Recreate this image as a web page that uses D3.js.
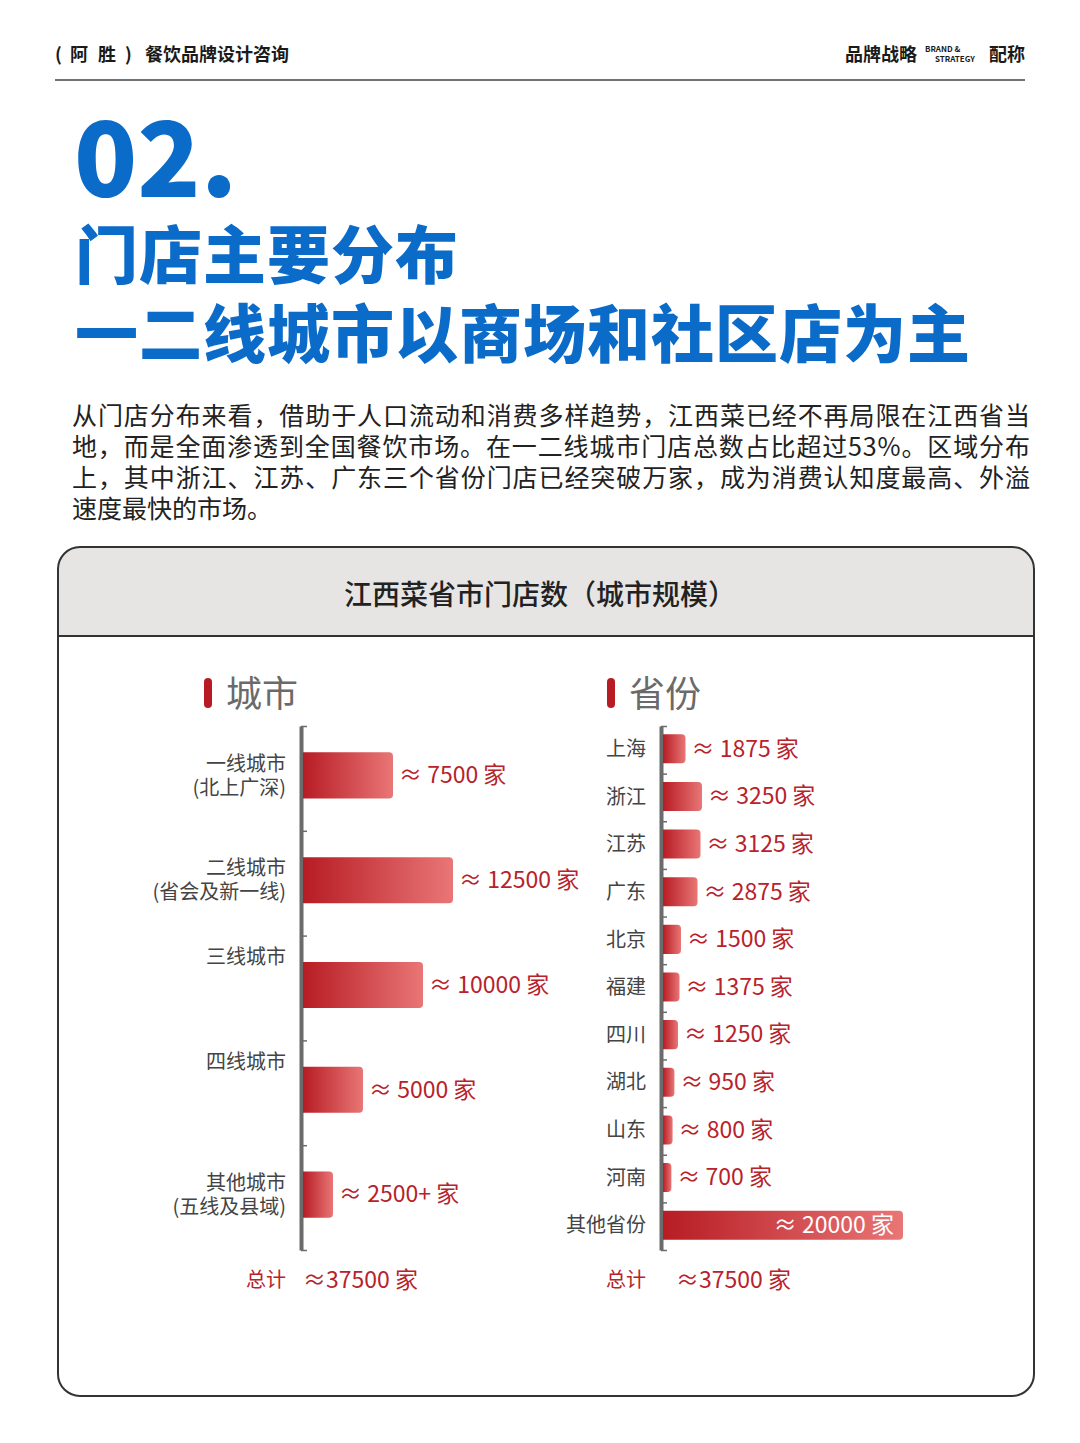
<!DOCTYPE html>
<html>
<head>
<meta charset="utf-8">
<script src="https://cdn.jsdelivr.net/npm/d3@7"></script>
<style>
  body { margin: 0; background: #fff; }
  text { font-family: "Noto Sans CJK SC", "Noto Sans", sans-serif; }
</style>
</head>
<body>
<script>
// data
const cityNames = ['一线城市\n(北上广深)', '二线城市\n(省会及新一线)', '三线城市', '四线城市', '其他城市\n(五线及县域)'];
const cityValues = [7500, 12500, 10000, 5000, 2500];
const cityValueLabels = ['≈ 7500 家', '≈ 12500 家', '≈ 10000 家', '≈ 5000 家', '≈ 2500+ 家'];

const provinceNames = ['上海', '浙江', '江苏', '广东', '北京', '福建', '四川', '湖北', '山东', '河南', '其他省份'];
const provinceValues = [1875, 3250, 3125, 2875, 1500, 1375, 1250, 950, 800, 700, 20000];

const totalLabel = '≈37500 家';

const paragraph = [
  '从门店分布来看，借助于人口流动和消费多样趋势，江西菜已经不再局限在江西省当',
  '地，而是全面渗透到全国餐饮市场。在一二线城市门店总数占比超过53%。区域分布',
  '上，其中浙江、江苏、广东三个省份门店已经突破万家，成为消费认知度最高、外溢',
  '速度最快的市场。'
];

const W = 1080, H = 1443;
const red = '#b8222a';
const blue = '#0a6bc9';

const svg = d3.select('body')
              .append('svg')
              .attr('width', W)
              .attr('height', H);

svg.append('rect').attr('width', W).attr('height', H).attr('fill', '#fff');

const defs = svg.append('defs');
const grad = defs.append('linearGradient').attr('id', 'barGrad');
grad.append('stop').attr('offset', '0%').attr('stop-color', '#b71c24');
grad.append('stop').attr('offset', '100%').attr('stop-color', '#e97676');

// page header
const hdr = svg.append('text')
               .attr('y', 55).attr('dy', '0.36em')
               .attr('font-size', 18).attr('font-weight', 700).attr('fill', '#1a1a1a');
hdr.append('tspan').attr('x', 55).text('(');
hdr.append('tspan').attr('x', 70).text('阿');
hdr.append('tspan').attr('x', 98).text('胜');
hdr.append('tspan').attr('x', 125).text(')');
hdr.append('tspan').attr('x', 145).text('餐饮品牌设计咨询');

svg.append('text').attr('x', 845).attr('y', 55).attr('dy', '0.36em')
   .attr('font-size', 18).attr('font-weight', 700).attr('fill', '#1a1a1a')
   .text('品牌战略');
svg.append('text').attr('x', 925).attr('y', 52)
   .attr('font-size', 8).attr('font-weight', 700).attr('fill', '#1a1a1a')
   .text('BRAND &');
svg.append('text').attr('x', 935).attr('y', 62)
   .attr('font-size', 8).attr('font-weight', 700).attr('fill', '#1a1a1a')
   .text('STRATEGY');
svg.append('text').attr('x', 1025).attr('y', 55).attr('dy', '0.36em')
   .attr('text-anchor', 'end')
   .attr('font-size', 18).attr('font-weight', 700).attr('fill', '#1a1a1a')
   .text('配称');

svg.append('line').attr('x1', 55).attr('x2', 1025).attr('y1', 80).attr('y2', 80)
   .attr('stroke', '#444').attr('stroke-width', 1.5);

// big titles
svg.append('text').attr('x', 74).attr('y', 197)
   .attr('font-size', 104).attr('font-weight', 900).attr('fill', blue)
   .text('02.');
svg.append('text').attr('x', 75).attr('y', 254).attr('dy', '0.38em')
   .attr('font-size', 63).attr('font-weight', 900).attr('fill', blue)
   .attr('letter-spacing', 1)
   .text('门店主要分布');
svg.append('text').attr('x', 75).attr('y', 333).attr('dy', '0.38em')
   .attr('font-size', 63).attr('font-weight', 900).attr('fill', blue)
   .attr('letter-spacing', 1)
   .text('一二线城市以商场和社区店为主');

// paragraph
svg.append('g').selectAll('text')
   .data(paragraph)
   .join('text')
   .attr('x', 72)
   .attr('y', (d, i) => 415 + i * 31.3)
   .attr('dy', '0.38em')
   .attr('font-size', 25)
   .attr('fill', '#222')
   .each(function(d, i) {
     if (i < paragraph.length - 1) {
       d3.select(this).attr('textLength', 958).attr('lengthAdjust', 'spacing');
     }
   })
   .text(d => d);

// chart panel
const px = 58, py = 547, pw = 976, ph = 849, pr = 22;
defs.append('clipPath').attr('id', 'panelClip')
    .append('rect').attr('x', px).attr('y', py).attr('width', pw).attr('height', ph).attr('rx', pr);
svg.append('rect').attr('x', px).attr('y', py).attr('width', pw).attr('height', 89)
   .attr('fill', '#e6e5e3').attr('clip-path', 'url(#panelClip)');
svg.append('line').attr('x1', px).attr('x2', px + pw).attr('y1', 636).attr('y2', 636)
   .attr('stroke', '#333').attr('stroke-width', 2);
svg.append('rect').attr('x', px).attr('y', py).attr('width', pw).attr('height', ph).attr('rx', pr)
   .attr('fill', 'none').attr('stroke', '#333').attr('stroke-width', 2);

svg.append('text').attr('x', 540).attr('y', 594).attr('dy', '0.38em')
   .attr('text-anchor', 'middle')
   .attr('font-size', 28).attr('font-weight', 500).attr('fill', '#222')
   .text('江西菜省市门店数（城市规模）');

// shared value scale
const x = d3.scaleLinear().domain([0, 20000]).range([0, 240]);

function barPath(x0, y, w, h) {
  const r = Math.min(4, w / 2);
  const x1 = x0 + w;
  return `M${x0},${y}H${x1 - r}Q${x1},${y} ${x1},${y + r}V${y + h - r}Q${x1},${y + h} ${x1 - r},${y + h}H${x0}Z`;
}

function drawChart(opt) {
  const g = svg.append('g');
  const n = opt.names.length;
  const top = 726, bottom = 1250;

  // section heading
  g.append('rect').attr('x', opt.markX).attr('y', 678).attr('width', 8).attr('height', 30)
   .attr('rx', 4).attr('fill', '#b71c24');
  g.append('text').attr('x', opt.markX + 22).attr('y', 693).attr('dy', '0.38em')
   .attr('font-size', 36).attr('fill', '#6a6a6a')
   .text(opt.heading);

  const y = d3.scaleBand()
              .domain(opt.names)
              .range([top - opt.lift, bottom - opt.lift])
              .paddingInner(opt.padInner)
              .paddingOuter(opt.padInner / 2);

  // axis with ticks on band boundaries
  const yb = d3.scaleLinear().domain([0, n]).range([top, bottom]);
  const axis = g.append('g')
                .attr('transform', `translate(${opt.axisX},0)`)
                .call(d3.axisRight(yb).tickValues(d3.range(n + 1)).tickFormat('').tickSize(6).tickSizeOuter(0));
  axis.select('.domain').attr('stroke', '#6b6b6b').attr('stroke-width', 4);
  axis.selectAll('.tick line').attr('stroke', '#6b6b6b').attr('stroke-width', 1.5);

  const data = opt.names.map((name, i) => ({ name, value: opt.values[i], label: opt.labels[i] }));
  const x0 = opt.axisX + 2;
  const maxV = d3.max(opt.values);

  g.selectAll('path.bar')
   .data(data)
   .join('path')
   .attr('class', 'bar')
   .attr('d', d => barPath(x0, y(d.name), x(d.value), y.bandwidth()))
   .attr('fill', 'url(#barGrad)');

  g.selectAll('text.val')
   .data(data)
   .join('text')
   .attr('class', 'val')
   .attr('x', d => d.value === maxV && opt.inside ? x0 + x(d.value) - 9 : x0 + x(d.value) + 6)
   .attr('y', d => y(d.name) + y.bandwidth() / 2)
   .attr('dy', '0.34em')
   .attr('text-anchor', d => d.value === maxV && opt.inside ? 'end' : 'start')
   .attr('font-size', opt.valSize)
   .attr('fill', d => d.value === maxV && opt.inside ? '#fff' : red)
   .text(d => d.label);

  // category labels
  g.selectAll('text.cat')
   .data(data)
   .join('text')
   .attr('class', 'cat')
   .attr('text-anchor', 'end')
   .attr('font-size', 20)
   .attr('fill', '#444')
   .each(function(d) {
     const lines = d.name.split('\n');
     const cy = y(d.name) + y.bandwidth() / 2;
     const startY = lines.length > 1 ? cy - 12 : cy + opt.singleShift;
     d3.select(this).selectAll('tspan')
       .data(lines)
       .join('tspan')
       .attr('x', opt.axisX - 15)
       .attr('y', (l, i) => startY + i * 24)
       .attr('dy', '0.36em')
       .text(l => l);
   });

  // totals
  g.append('text').attr('x', opt.axisX - 15).attr('y', 1280).attr('dy', '0.36em')
   .attr('text-anchor', 'end').attr('font-size', 20).attr('fill', red)
   .text('总计');
  g.append('text').attr('x', opt.totalX).attr('y', 1280).attr('dy', '0.34em')
   .attr('font-size', 23).attr('fill', red)
   .text(totalLabel);
}

drawChart({
  names: cityNames, values: cityValues, labels: cityValueLabels,
  heading: '城市', markX: 204, axisX: 301, padInner: 0.56, lift: 3,
  valSize: 23, inside: false, totalX: 303, singleShift: -28
});

drawChart({
  names: provinceNames, values: provinceValues,
  labels: provinceValues.map(v => '≈ ' + v + ' 家'),
  heading: '省份', markX: 607, axisX: 661, padInner: 0.39, lift: 1,
  valSize: 23, inside: true, totalX: 676, singleShift: 0
});
</script>
</body>
</html>
